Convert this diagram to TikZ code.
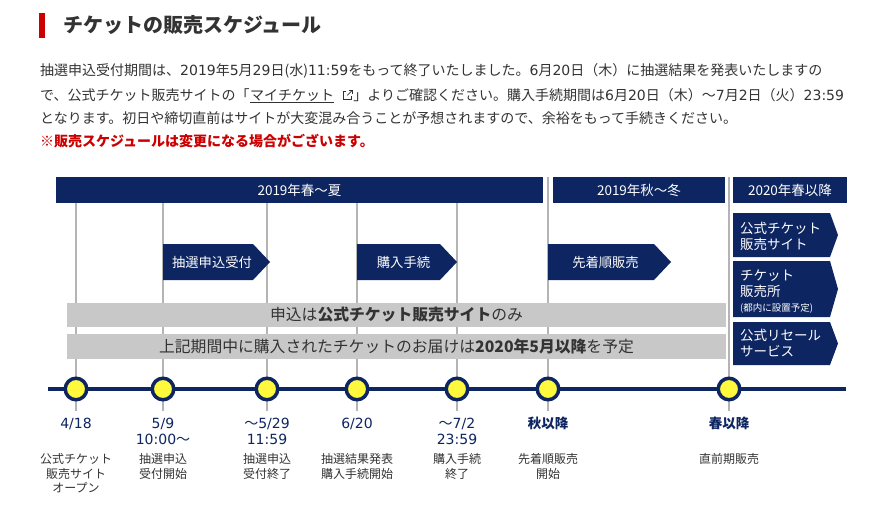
\documentclass[tikz,border=0pt]{standalone}
\usepackage{fontspec}
\setmainfont{Noto Sans CJK JP}
\newfontfamily\digf{DejaVu Sans}
\newcommand{\dg}[1]{{\digf #1}}
\newcommand{\wv}{{\rmfamily ～}}
\definecolor{navy}{RGB}{13,37,96}
\definecolor{ylw}{RGB}{255,248,60}
\definecolor{barg}{RGB}{200,200,200}
\definecolor{lineg}{RGB}{180,180,180}
\definecolor{txt}{RGB}{51,51,51}
\definecolor{redc}{RGB}{204,0,0}
\begin{document}
\begin{tikzpicture}[x=1pt,y=-1pt,
  body/.style={anchor=west,inner sep=0,text=txt,font=\fontsize{14}{22}\selectfont},
  hdr/.style={fill=navy,text=white,inner sep=0,font=\fontsize{13.5}{16}\selectfont},
  arrowtxt/.style={text=white,inner sep=0,font=\fontsize{13.3}{16}\selectfont},
  sidetxt/.style={anchor=base west,text=white,inner sep=0,align=left,font=\fontsize{13.5}{16}\selectfont},
  bartxt/.style={text=txt,inner sep=0,font=\fontsize{15.8}{18}\selectfont},
  datetxt/.style={anchor=base,text=navy,inner sep=0,align=center,font=\fontsize{14}{16}\selectfont\digf},
  desctxt/.style={anchor=base,text=txt,inner sep=0,align=center,font=\fontsize{12}{14.5}\selectfont},
  dot/.style={circle,draw=navy,line width=3.5pt,fill=ylw,minimum size=21.5pt,inner sep=0},
  vline/.style={draw=lineg,line width=1.6pt}]
\useasboundingbox (0,0) rectangle (887,506);
\fill[white] (0,0) rectangle (887,506);

% title
\fill[redc] (39,13) rectangle (45,38);
\node[anchor=west,inner sep=0,text=txt,font=\fontsize{20}{24}\selectfont\bfseries] (title) at (63,25) {チケットの販売スケジュール};

% body text
\node[body] (l1) at (40,71) {抽選申込受付期間は、\dg{2019}年\dg{5}月\dg{29}日(水)\dg{11:59}をもって終了いたしました。\dg{6}月\dg{20}日（木）に抽選結果を発表いたしますの};
\node[body] (l2a) at (40,95) {で、公式チケット販売サイトの「};
\node[anchor=base west,inner sep=0,text=txt,font=\fontsize{14}{22}\selectfont] (mc) at (l2a.base east) {マイチケット};
\draw[txt,line width=0.7pt] ([yshift=-2pt]mc.base west) -- ([yshift=-2pt]mc.base east);
\coordinate (ic) at ([xshift=9pt]mc.base east);
\node[anchor=base west,inner sep=0,text=txt,font=\fontsize{14}{22}\selectfont] (l2c) at ([xshift=19pt]mc.base east) {」よりご確認ください。購入手続期間は\dg{6}月\dg{20}日（木）～\dg{7}月\dg{2}日（火）\dg{23:59}};
\draw[txt,line width=0.8pt] ([shift={(3,-9)}]ic) -- ([shift={(0,-9)}]ic) -- ([shift={(0,-1)}]ic) -- ([shift={(8,-1)}]ic) -- ([shift={(8,-4)}]ic);
\draw[txt,line width=0.8pt] ([shift={(4,-5)}]ic) -- ([shift={(9,-10)}]ic);
\draw[txt,line width=0.8pt] ([shift={(5.5,-10)}]ic) -- ([shift={(9,-10)}]ic) -- ([shift={(9,-6.5)}]ic);
\node[body] (l3) at (40,118) {となります。初日や締切直前はサイトが大変混み合うことが予想されますので、余裕をもって手続きください。};
\node[body,text=redc,font=\fontsize{14}{22}\selectfont\bfseries] (l4) at (40,141) {※販売スケジュールは変更になる場合がございます。};

% vertical guide lines
\foreach \x in {76,163,267,357,457,548,729} \draw[vline] (\x,177) -- (\x,411);

% header bars
\node[hdr,minimum width=487pt,minimum height=26pt] (h1) at (299.5,190) {2019年春～夏};
\node[hdr,minimum width=172pt,minimum height=26pt] (h2) at (639,190) {2019年秋～冬};
\node[hdr,minimum width=114pt,minimum height=26pt] (h3) at (790,190) {2020年春以降};

% arrows
\fill[navy] (163,244) -- (253,244) -- (270,262) -- (253,280) -- (163,280) -- cycle;
\node[arrowtxt] (a1) at (212,262) {抽選申込受付};
\fill[navy] (357,244) -- (440,244) -- (457,262) -- (440,280) -- (357,280) -- cycle;
\node[arrowtxt] (a2) at (403.5,262) {購入手続};
\fill[navy] (548,244) -- (654,244) -- (671,262) -- (654,280) -- (548,280) -- cycle;
\node[arrowtxt] (a3) at (605.5,262) {先着順販売};

% right side boxes
\fill[navy] (733,213) -- (830,213) -- (838,235) -- (830,257) -- (733,257) -- cycle;
\node[sidetxt] (s1) at (740,249.5) {公式チケット\\販売サイト};
\fill[navy] (733,261) -- (830,261) -- (838,289) -- (830,317) -- (733,317) -- cycle;
\node[sidetxt] (s2) at (740,311) {チケット\\販売所\\[-1.5pt]{\fontsize{9.5}{11}\selectfont (都内に設置予定)}};
\fill[navy] (733,322) -- (830,322) -- (838,343.5) -- (830,365) -- (733,365) -- cycle;
\node[sidetxt] (s3) at (740,356.5) {公式リセール\\サービス};

% grey bars
\fill[barg] (67,303) rectangle (726,327);
\node[bartxt] (b1) at (396.5,315) {申込は\textbf{公式チケット販売サイト}のみ};
\fill[barg] (67,334) rectangle (726,359);
\node[bartxt] (b2) at (396.5,346.5) {上記期間中に購入されたチケットのお届けは\textbf{2020年5月以降}を予定};

% timeline
\coordinate (tl0) at (48,389);
\coordinate (tl1) at (846,389);
\draw[navy,line width=4pt] (tl0) -- (tl1);
\node[dot] (d1) at (76,389) {};
\node[dot] (d2) at (163,389) {};
\node[dot] (d3) at (267,389) {};
\node[dot] (d4) at (357,389) {};
\node[dot] (d5) at (457,389) {};
\node[dot] (d6) at (548,389) {};
\node[dot] (d7) at (729,389) {};

% dates
\node[datetxt] (t1) at (76,428.5) {4/18};
\node[datetxt] (t2) at (163,444.5) {5/9\\10:00\wv};
\node[datetxt] (t3) at (267,444.5) {\wv5/29\\11:59};
\node[datetxt] (t4) at (357,428.5) {6/20};
\node[datetxt] (t5) at (457,444.5) {\wv7/2\\23:59};
\node[datetxt,font=\fontsize{13.5}{16}\selectfont\bfseries] (t6) at (548,428.5) {秋以降};
\node[datetxt,font=\fontsize{13.5}{16}\selectfont\bfseries] (t7) at (729,428.5) {春以降};

% descriptions
\node[desctxt] (e1) at (76,492.5) {公式チケット\\販売サイト\\オープン};
\node[desctxt] (e2) at (163,478) {抽選申込\\受付開始};
\node[desctxt] (e3) at (267,478) {抽選申込\\受付終了};
\node[desctxt] (e4) at (357,478) {抽選結果発表\\購入手続開始};
\node[desctxt] (e5) at (457,478) {購入手続\\終了};
\node[desctxt] (e6) at (548,478) {先着順販売\\開始};
\node[desctxt] (e7) at (729,463.5) {直前期販売};
\end{tikzpicture}
\end{document}
